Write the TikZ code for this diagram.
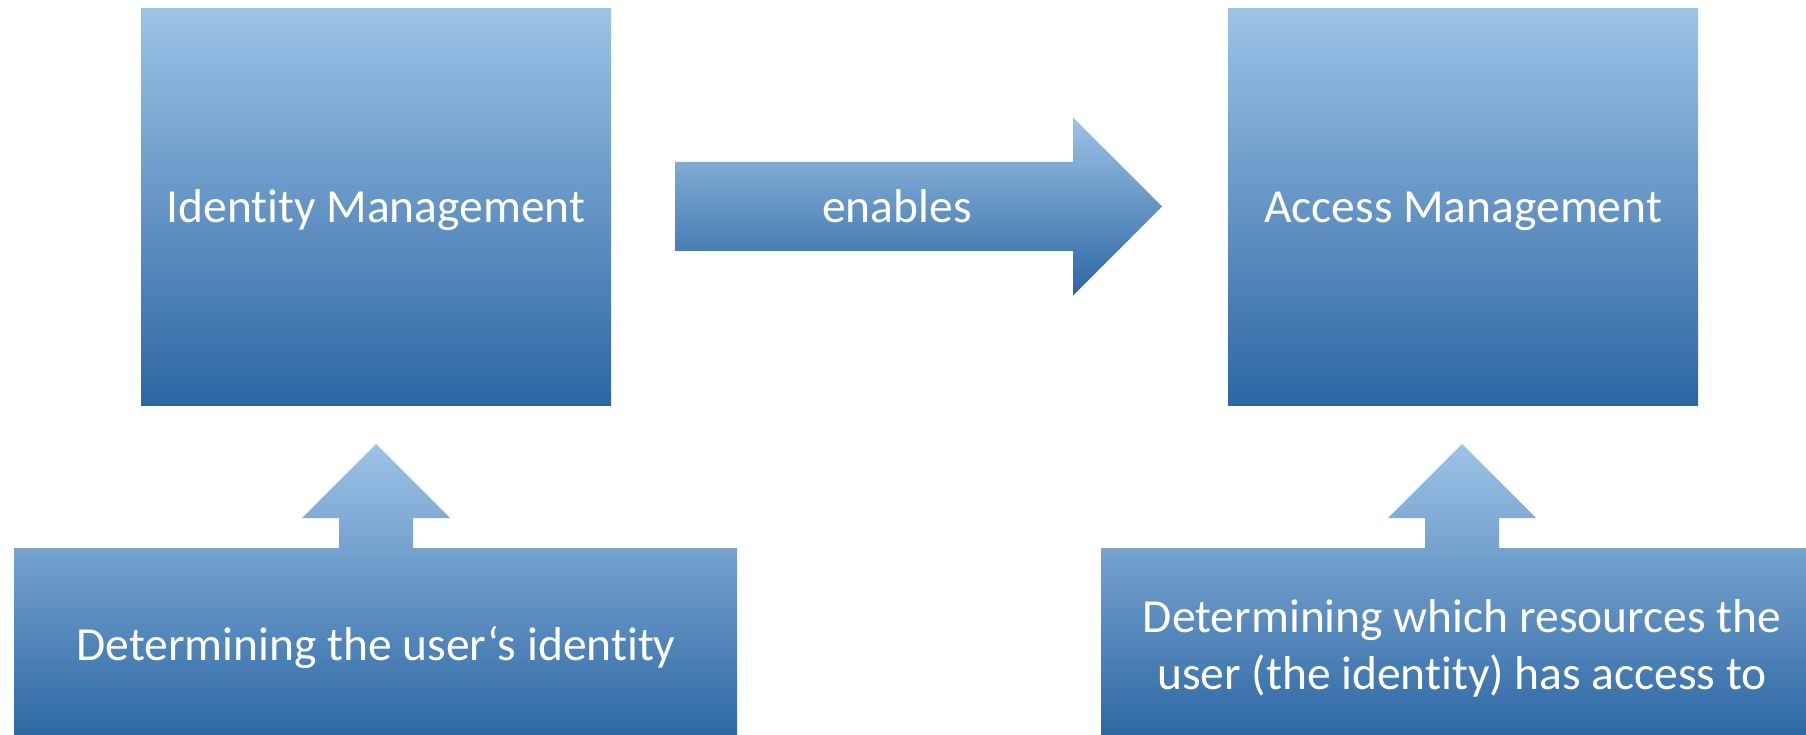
\documentclass[tikz,border=0pt]{standalone}
\usepackage{fontspec}
\setmainfont{Carlito}[Ligatures={NoCommon,NoContextual}]
\definecolor{gradtop}{HTML}{9DC3E6}
\definecolor{gradmid}{HTML}{5B9BD5}
\definecolor{gradbot}{HTML}{2C66A3}
\begin{document}
\begin{tikzpicture}[x=1pt,y=-1pt,
  blueshade/.style={top color=gradtop, middle color=gradmid, bottom color=gradbot, draw=none},
  labeltext/.style={text=white, font=\fontsize{47.5}{56.6}\selectfont, align=center, inner sep=0pt},
  oneline/.style={labeltext, text height=30.5pt, text depth=0pt},
  mainbox/.style={blueshade, oneline, minimum width=470pt, minimum height=396pt}]
\useasboundingbox (0,0) rectangle (1806,735);
\clip (0,0) rectangle (1806,735);

% the two management boxes
\node[mainbox] (idm) at (376,207) {Identity Management};
\node[mainbox] (acm) at (1463,207) {Access Management};

% block arrow between them
\path[blueshade] (675,162) -- (1073,162) -- (1073,117.5) -- (1162,206.5)
  -- (1073,295.5) -- (1073,251) -- (675,251) -- cycle;
\node[oneline] (enables) at (897,207) {enables};

% callout boxes with an upward arrow
\path[blueshade] (14,740) -- (14,548) -- (339,548) -- (339,518) -- (302,518)
  -- (376,444) -- (450,518) -- (413,518) -- (413,548) -- (737,548) -- (737,740) -- cycle;
\node[oneline] (idtext) at (376,645) {Determining the user‘s identity};

\path[blueshade] (1101,740) -- (1101,548) -- (1425,548) -- (1425,518) -- (1388,518)
  -- (1462,444) -- (1536,518) -- (1499,518) -- (1499,548) -- (1823,548) -- (1823,740) -- cycle;
\node[labeltext, anchor=base] (actext) at (1462,689.5) {Determining which resources the\\user (the identity) has access to};
\end{tikzpicture}
\end{document}
